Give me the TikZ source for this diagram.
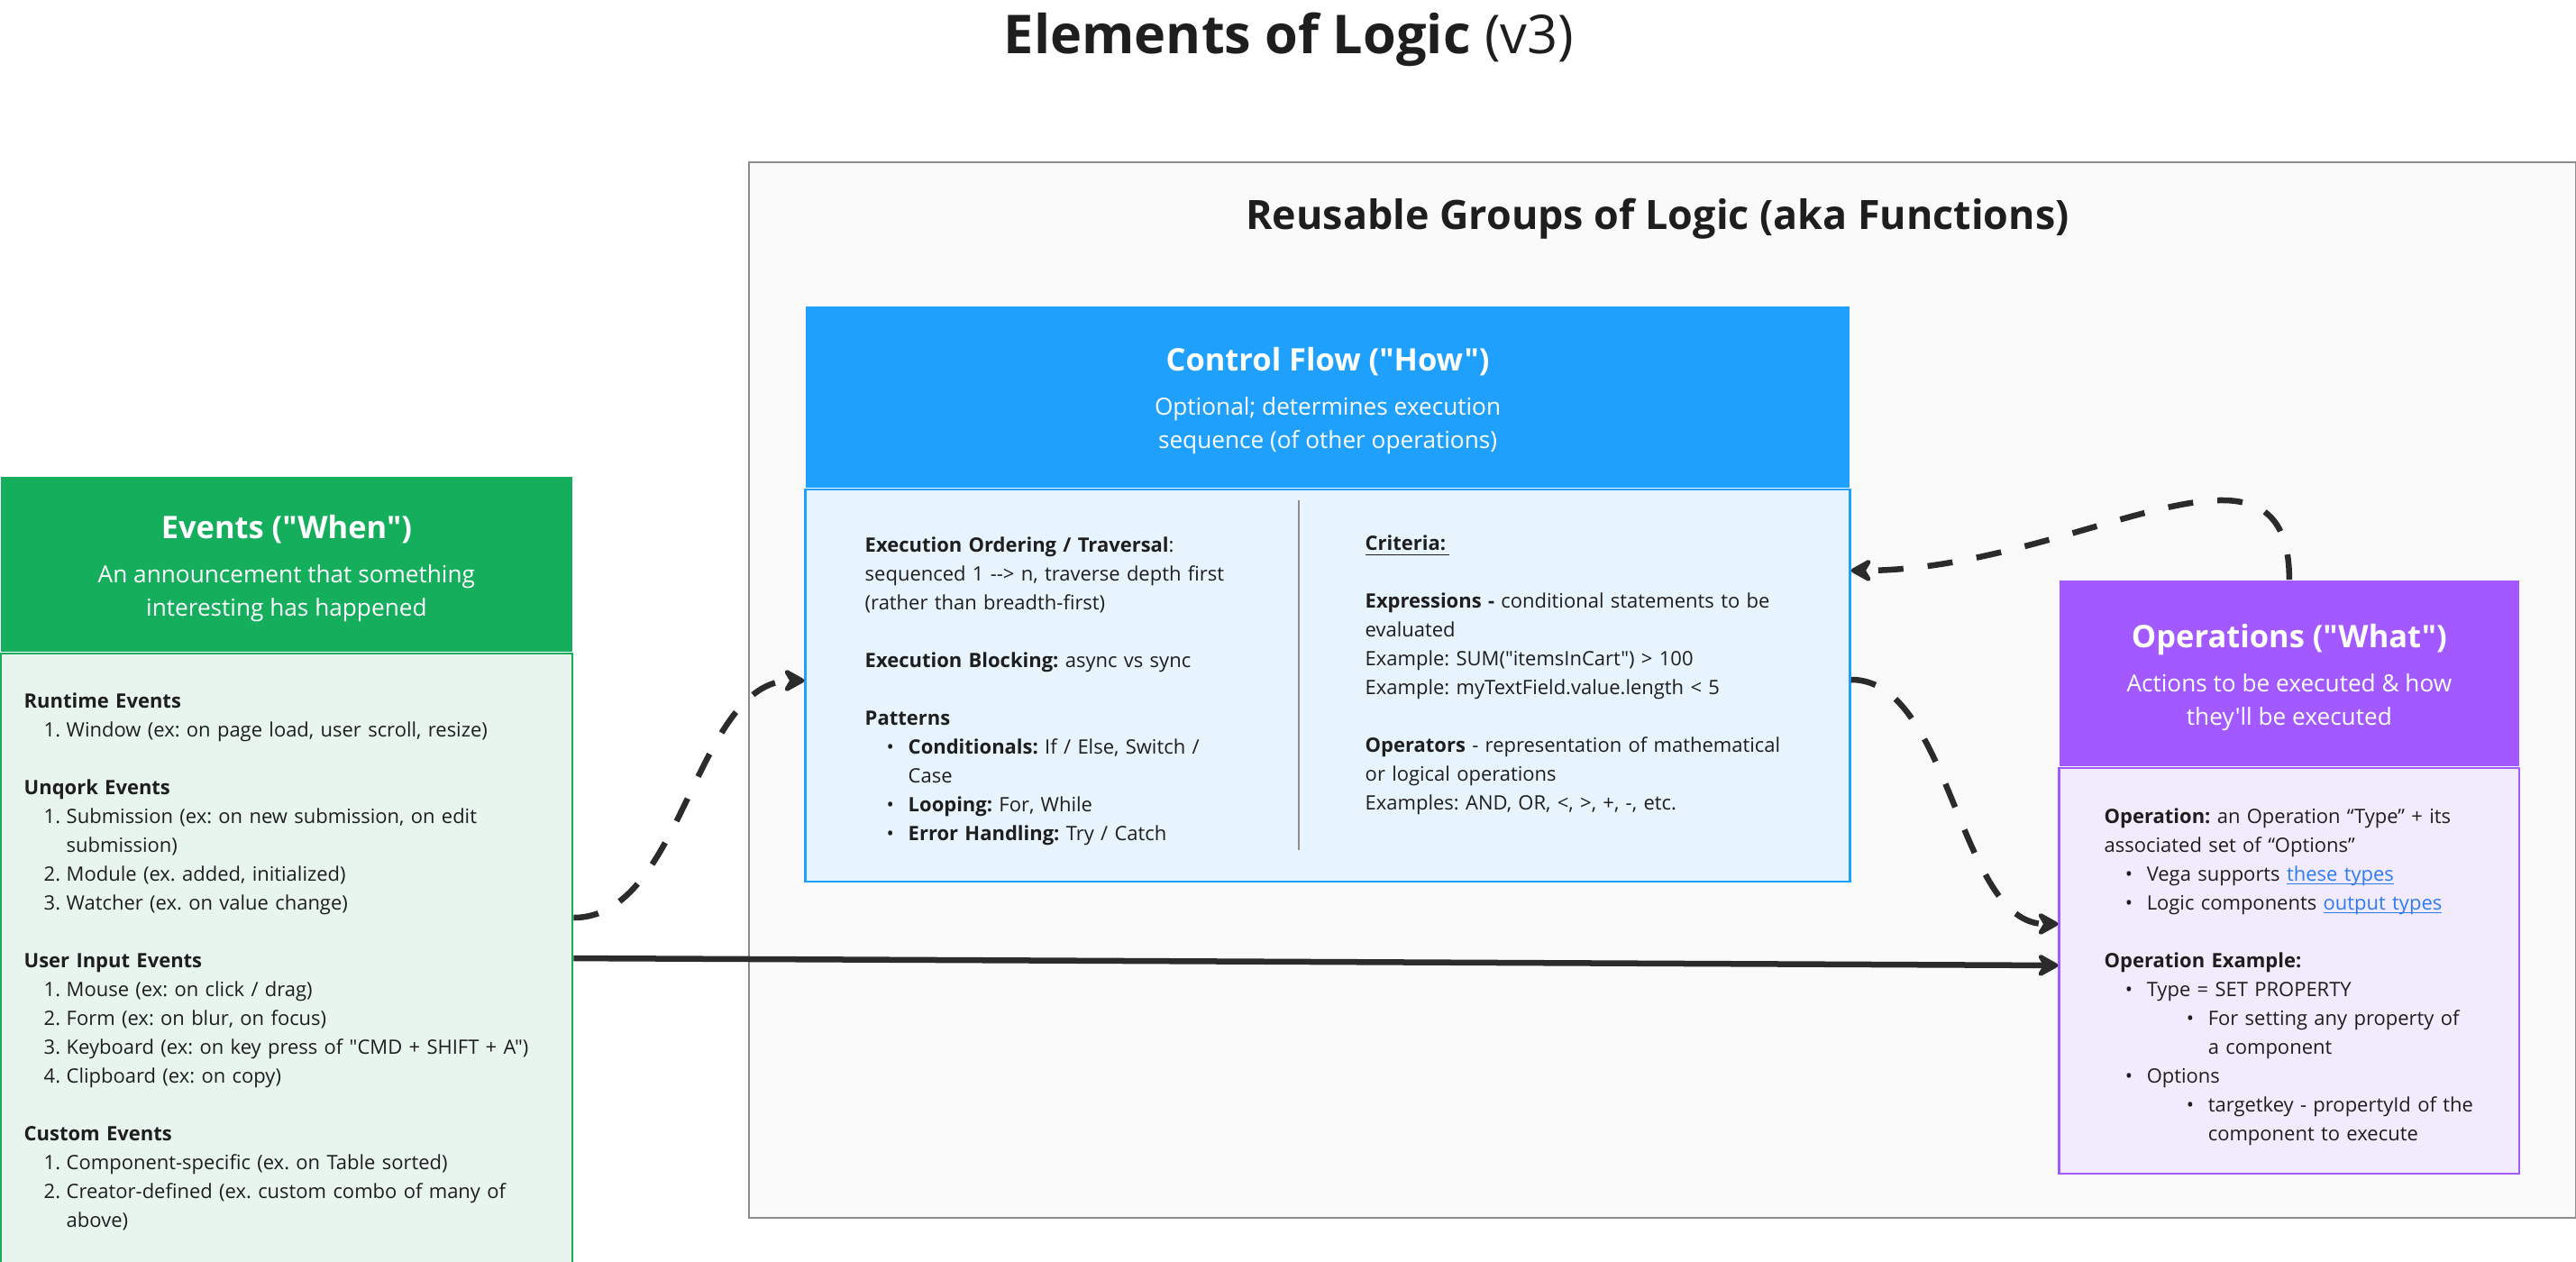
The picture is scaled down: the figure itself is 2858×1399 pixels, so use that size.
\documentclass[tikz,border=0pt]{standalone}
\usepackage{fontspec}
\setmainfont{Open Sans}[Ligatures=TeXOff]
\usetikzlibrary{arrows.meta,positioning}
\setlength{\parindent}{0pt}
\frenchspacing

\definecolor{evgreen}{HTML}{14AE5C}
\definecolor{evlight}{HTML}{E8F5EE}
\definecolor{cfblue}{HTML}{1FA0FC}
\definecolor{cflight}{HTML}{E7F3FD}
\definecolor{oppurple}{HTML}{A259FF}
\definecolor{oplight}{HTML}{F2EBFD}
\definecolor{grpfill}{HTML}{FAFAFA}
\definecolor{grpline}{HTML}{8C8C8C}
\definecolor{ink}{HTML}{1E1E1E}
\definecolor{arrowink}{HTML}{2B2B2B}
\definecolor{linkblue}{HTML}{2F7BF0}

\newcommand{\bodyfont}{\fontsize{6.25pt}{9.1pt}\selectfont}
\newcommand{\subfont}{\fontsize{7.45pt}{10.5pt}\selectfont}
\newcommand{\headfont}{\fontsize{9.8pt}{12pt}\selectfont\bfseries}
\newcommand{\numit}[1]{\hspace*{0.22cm}\makebox[0.25cm][l]{#1}}
\newcommand{\contit}{\hspace*{0.47cm}}
\newcommand{\bulit}[1]{\hspace*{#1}\makebox[0.24cm][l]{\textbullet}}
\newcommand{\lnk}[1]{\textcolor{linkblue}{\setbox0\hbox{#1}\rlap{\rule[-1.1pt]{\wd0}{0.45pt}}\box0}}

\begin{document}
\begin{tikzpicture}[x=0.01cm,y=-0.01cm,font=\bodyfont,text=ink,
  >={Stealth[length=0.28cm,width=0.31cm,inset=0.09cm,round]},
  headbox/.style={anchor=north west,inner sep=0pt,align=center,text=white,font=\subfont},
  bodybox/.style={anchor=north,draw,line width=0.75pt,inner sep=0pt},
  bodytext/.style={anchor=north west,inner sep=0pt,align=left},
  flow/.style={->,line width=0.065cm,draw=arrowink},
  dashflow/.style={flow,dash pattern=on 0.28cm off 0.27cm}]

\useasboundingbox (0,0) rectangle (2858,1399);

% Title
\node[font=\fontsize{16.9pt}{20pt}\selectfont\bfseries] (title) at (1430,44)
  {Elements of Logic {\mdseries (v3)}};

% Reusable groups (frame)
\node[draw=grpline,fill=grpfill,line width=0.6pt,anchor=north west,inner sep=0pt,
      minimum width=20.26cm,minimum height=11.70cm] (group) at (830,179) {};
\node[font=\fontsize{12.75pt}{15pt}\selectfont\bfseries] (grptitle) at (1839,243)
  {Reusable Groups of Logic (aka Functions)};

% Events ("When")
\node[headbox,fill=evgreen,minimum width=6.34cm,minimum height=1.94cm] (evhead) at (0,528)
  {{\headfont\rule{0pt}{10pt}Events ("When")}\\[3.5pt]An announcement that something\\interesting has happened};
\node[bodybox,draw=evgreen,fill=evlight,minimum width=6.34cm,minimum height=6.76cm]
  (evbody) at (evhead.south) {};
\node[bodytext,text width=6cm] (evtext) at (26,768)
  {\textbf{Runtime Events}\\
   \numit{1.}Window (ex: on page load, user scroll, resize)\\[9.1pt]
   \textbf{Unqork Events}\\
   \numit{1.}Submission (ex: on new submission, on edit\\
   \contit submission)\\
   \numit{2.}Module (ex. added, initialized)\\
   \numit{3.}Watcher (ex. on value change)\\[9.1pt]
   \textbf{User Input Events}\\
   \numit{1.}Mouse (ex: on click / drag)\\
   \numit{2.}Form (ex: on blur, on focus)\\
   \numit{3.}Keyboard (ex: on key press of "CMD + SHIFT + A")\\
   \numit{4.}Clipboard (ex: on copy)\\[9.1pt]
   \textbf{Custom Events}\\
   \numit{1.}Component-specific (ex. on Table sorted)\\
   \numit{2.}Creator-defined (ex. custom combo of many of\\
   \contit above)};

% Control Flow ("How")
\node[headbox,fill=cfblue,minimum width=11.58cm,minimum height=2.01cm] (cfhead) at (893,339)
  {{\headfont\rule{0pt}{10pt}Control Flow ("How")}\\[3.5pt]Optional; determines execution\\sequence (of other operations)};
\node[bodybox,draw=cfblue,fill=cflight,minimum width=11.58cm,minimum height=4.35cm]
  (cfbody) at (cfhead.south) {};
\draw[grpline,line width=0.6pt] ([xshift=-0.32cm,yshift=-0.13cm]cfbody.north)
  -- ([xshift=-0.32cm,yshift=0.36cm]cfbody.south);
\node[bodytext,text width=4.6cm] (cfleft) at (959,595)
  {\textbf{Execution Ordering / Traversal}:\\
   sequenced 1 --> n, traverse depth first\\
   (rather than breadth-first)\\[9.1pt]
   \textbf{Execution Blocking:} async vs sync\\[9.1pt]
   \textbf{Patterns}\\
   \bulit{0.24cm}\textbf{Conditionals:} If / Else, Switch /\\
   \hspace*{0.48cm}Case\\
   \bulit{0.24cm}\textbf{Looping:} For, While\\
   \bulit{0.24cm}\textbf{Error Handling:} Try / Catch};
\node[bodytext,text width=4.8cm] (cfright) at (1514,593)
  {\underline{\textbf{Criteria:}\,}\\[9.1pt]
   \textbf{Expressions -} conditional statements to be\\
   evaluated\\
   Example: SUM("itemsInCart") > 100\\
   Example: myTextField.value.length < 5\\[9.1pt]
   \textbf{Operators} - representation of mathematical\\
   or logical operations\\
   Examples: AND, OR, <, >, +, -, etc.};

% Operations ("What")
\node[headbox,fill=oppurple,minimum width=5.10cm,minimum height=2.06cm] (ophead) at (2284,643)
  {{\headfont\rule{0pt}{10pt}Operations ("What")}\\[3.5pt]Actions to be executed \& how\\they'll be executed};
\node[bodybox,draw=oppurple,fill=oplight,minimum width=5.10cm,minimum height=4.50cm]
  (opbody) at (ophead.south) {};
\node[bodytext,text width=4.6cm] (optext) at (2334,896)
  {\textbf{Operation:} an Operation “Type” + its\\
   associated set of “Options”\\
   \bulit{0.23cm}Vega supports \lnk{these types}\\
   \bulit{0.23cm}Logic components \lnk{output types}\\[9.1pt]
   \textbf{Operation Example:}\\
   \bulit{0.23cm}Type = SET PROPERTY\\
   \bulit{0.91cm}For setting any property of\\
   \hspace*{1.15cm}a component\\
   \bulit{0.23cm}Options\\
   \bulit{0.91cm}targetkey - propertyId of the\\
   \hspace*{1.15cm}component to execute};

% Connectors
\draw[dashflow] ([yshift=0.45cm]evbody.east) to[out=0,in=180,looseness=0.85]
  ([yshift=0.055cm]cfbody.west);
\draw[flow] (evbody.east) -- ([yshift=0.06cm]opbody.west);
\draw[dashflow] ([yshift=0.065cm]cfbody.east) to[out=0,in=180,looseness=0.8]
  ([yshift=0.52cm]opbody.west);
\draw[dashflow] (ophead.north) .. controls +(0,-192) and +(248,0) ..
  ([yshift=1.275cm]cfbody.east);

\end{tikzpicture}
\end{document}
